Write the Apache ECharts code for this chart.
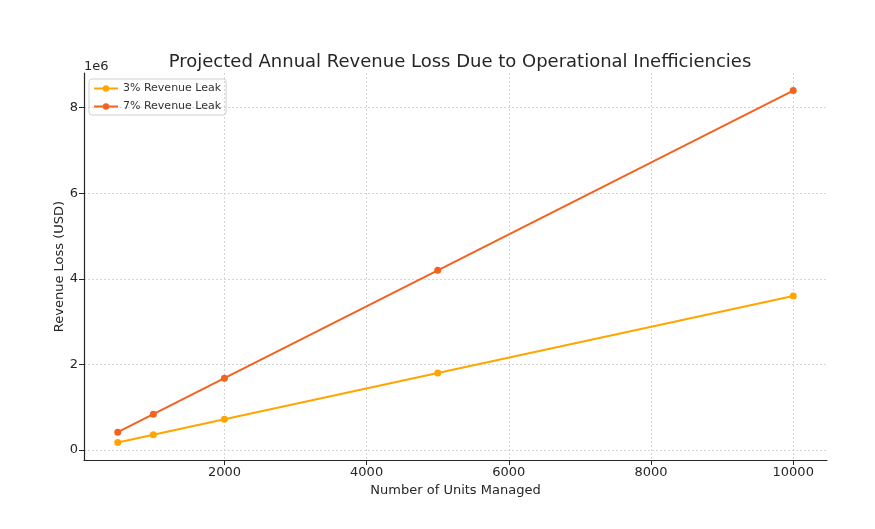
<!DOCTYPE html>
<html><head><meta charset="utf-8">
<script src="https://cdn.jsdelivr.net/npm/echarts@6/dist/echarts.min.js"></script>
<style>html,body{margin:0;padding:0;background:#fff}#c{width:875px;height:529px}</style>
</head><body><div id="c"></div>
<script>
const units = [500, 1000, 2000, 5000, 10000];
const leak3 = [180000, 360000, 720000, 1800000, 3600000];
const leak7 = [420000, 840000, 1680000, 4200000, 8400000];
const xTicks = [2000, 4000, 6000, 8000, 10000];
const yTicks = [0, 2000000, 4000000, 6000000, 8000000];
const font = 'DejaVu Sans';
const chart = echarts.init(document.getElementById('c'));
const pair = a => units.map((u, i) => [u, a[i]]);
chart.setOption({
  animation: false,
  textStyle: { fontFamily: font },
  title: {
    text: 'Projected Annual Revenue Loss Due to Operational Inefficiencies',
    left: 455, top: 48, textAlign: 'center',
    textStyle: { fontFamily: font, fontSize: 18, fontWeight: 'normal', color: '#262626' }
  },
  graphic: [{ type: 'text', left: 84, top: 60, style: { text: '1e6', font: '13px DejaVu Sans', fill: '#262626' } }],
  legend: {
    left: 89, top: 79, orient: 'vertical', itemGap: 7, itemWidth: 24, itemHeight: 8,
    padding: [4, 5, 3, 4], borderColor: '#d0d0d0', borderWidth: 1, borderRadius: 3,
    textStyle: { fontFamily: font, fontSize: 11, color: '#333' },
    data: ['3% Revenue Leak', '7% Revenue Leak']
  },
  grid: { left: 84, right: 48, top: 73, bottom: 69, containLabel: false },
  xAxis: {
    type: 'value', min: 25, max: 10475,
    name: 'Number of Units Managed', nameLocation: 'middle', nameGap: 22,
    nameTextStyle: { fontFamily: font, fontSize: 13, color: '#262626' },
    axisLine: { show: true, onZero: false, lineStyle: { color: '#262626', width: 1.2 } },
    axisTick: { show: true, customValues: xTicks, length: 5, lineStyle: { color: '#262626' } },
    axisLabel: { customValues: xTicks, fontFamily: font, fontSize: 13, color: '#262626', margin: 6,
      formatter: v => String(v) },
    splitLine: { show: true, lineStyle: { color: '#cccccc', type: [2, 2], width: 0.8 } }
  },
  yAxis: {
    type: 'value', min: -231000, max: 8811000,
    name: 'Revenue Loss (USD)', nameLocation: 'middle', nameGap: 18, nameRotate: 90,
    nameMoveOverlap: false,
    nameTextStyle: { fontFamily: font, fontSize: 13, color: '#262626' },
    axisLine: { show: true, onZero: false, lineStyle: { color: '#262626', width: 1.2 } },
    axisTick: { show: true, customValues: yTicks, length: 5, lineStyle: { color: '#262626' } },
    axisLabel: { customValues: yTicks, fontFamily: font, fontSize: 13, color: '#262626', margin: 6,
      formatter: v => String(Math.round(v / 1e6)) },
    splitLine: { show: true, lineStyle: { color: '#cccccc', type: [2, 2], width: 0.8 } }
  },
  series: [
    { name: '3% Revenue Leak', type: 'line', data: pair(leak3), symbol: 'circle', symbolSize: 7,
      itemStyle: { color: '#FFA500' }, lineStyle: { color: '#FFA500', width: 2 } },
    { name: '7% Revenue Leak', type: 'line', data: pair(leak7), symbol: 'circle', symbolSize: 7,
      itemStyle: { color: '#F4621F' }, lineStyle: { color: '#F4621F', width: 2 } }
  ]
});
</script></body></html>
